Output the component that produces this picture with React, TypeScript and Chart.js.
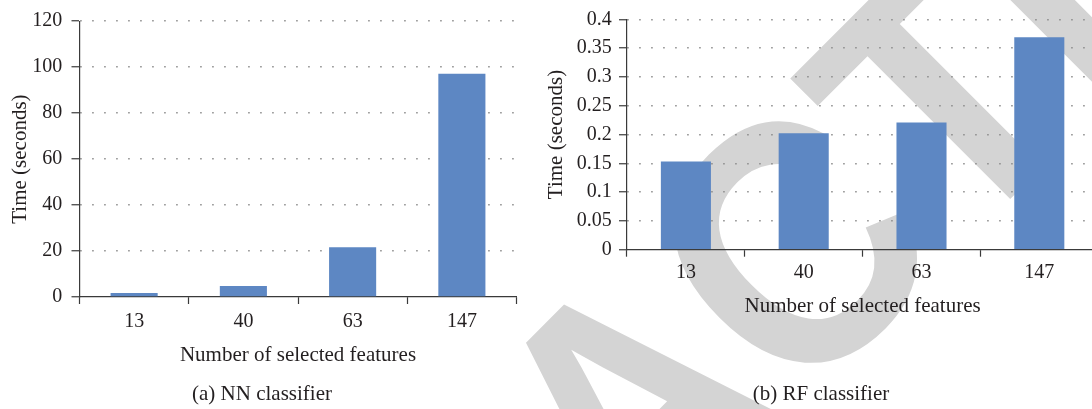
import React, { useEffect, useRef } from "react";
import { Chart, registerables } from "chart.js";

Chart.register(...registerables);

// ---- data ----
const categories = ["13", "40", "63", "147"];
const nnTimes = [1.7, 4.8, 21.6, 97.1];
const rfTimes = [0.153, 0.202, 0.221, 0.369];
const nnTicks = [0, 20, 40, 60, 80, 100, 120];
const rfTicks = [0, 0.05, 0.1, 0.15, 0.2, 0.25, 0.3, 0.35, 0.4];
const xTitle = "Number of selected features";
const yTitle = "Time (seconds)";
const captionA = "(a) NN classifier";
const captionB = "(b) RF classifier";
const watermarkText = "RETRACTED";

// ---- style ----
const SERIF = '"Liberation Serif", "Times New Roman", serif';
const TEXT = "#231f20";
const AXIS = "#3a3a3a";
const GRID = "#8a8a8a";
const BAR = "#5d87c3";

type Layout = {
  yWidth: number;
  xHeight: number;
  padTop: number;
  padRight: number;
  yTickPad: number;
  yTitlePad: number;
  xTickPad: number;
  xTitlePad: number;
  barPct: number;
};

function makeConfig(values: number[], ticks: number[], lay: Layout): any {
  const yMax = ticks[ticks.length - 1];
  return {
    type: "bar",
    data: {
      labels: categories,
      datasets: [
        {
          data: values,
          backgroundColor: BAR,
          borderWidth: 0,
          categoryPercentage: 1,
          barPercentage: lay.barPct,
        },
      ],
    },
    options: {
      responsive: false,
      devicePixelRatio: 1,
      animation: false,
      layout: { padding: { left: 0, right: lay.padRight, top: lay.padTop, bottom: 0 } },
      plugins: { legend: { display: false }, tooltip: { enabled: false }, title: { display: false } },
      scales: {
        x: {
          type: "category",
          offset: true,
          grid: {
            display: true,
            drawOnChartArea: false,
            drawTicks: true,
            tickLength: 7,
            tickColor: AXIS,
            tickWidth: 1.2,
            tickBorderDash: [],
            offset: true,
            color: AXIS,
          },
          border: { display: true, color: AXIS, width: 1.2, dash: [] },
          ticks: {
            color: TEXT,
            font: { family: SERIF, size: 20 },
            padding: lay.xTickPad,
            maxRotation: 0,
            autoSkip: false,
          },
          title: {
            display: true,
            text: xTitle,
            color: TEXT,
            font: { family: SERIF, size: 21 },
            padding: { top: 0, bottom: lay.xTitlePad },
          },
          afterFit: (a: any) => {
            a.height = lay.xHeight;
          },
        },
        y: {
          min: 0,
          max: yMax,
          afterBuildTicks: (a: any) => {
            a.ticks = ticks.map((v) => ({ value: v }));
          },
          grid: {
            color: (c: any) => (c.tick && c.tick.value === 0 ? "rgba(0,0,0,0)" : GRID),
            lineWidth: 1.5,
            drawTicks: true,
            tickLength: 8,
            tickColor: AXIS,
            tickWidth: 1.2,
            tickBorderDash: [],
          },
          border: { display: true, color: AXIS, width: 1.2, dash: [1.5, 10.5] },
          ticks: {
            color: TEXT,
            font: { family: SERIF, size: 20 },
            padding: lay.yTickPad,
            callback: (v: any) => String(+Number(v).toFixed(2)),
          },
          title: {
            display: true,
            text: yTitle,
            color: TEXT,
            font: { family: SERIF, size: 21 },
            padding: { top: lay.yTitlePad, bottom: 0 },
          },
          afterFit: (a: any) => {
            a.width = lay.yWidth;
          },
        },
      },
    },
  };
}

function drawWatermark(canvas: HTMLCanvasElement) {
  const ctx = canvas.getContext("2d");
  if (!ctx) return;
  ctx.clearRect(0, 0, canvas.width, canvas.height);
  const F = 350;
  const sx = 0.905;
  ctx.save();
  ctx.translate(792, 247);
  ctx.rotate(-Math.PI / 4);
  ctx.scale(sx, 1);
  ctx.font = `bold ${F}px "Liberation Sans", Arial, sans-serif`;
  const pre = ctx.measureText(watermarkText.slice(0, 5)).width;
  const m = ctx.measureText("C");
  const asc = m.actualBoundingBoxAscent;
  const desc = m.actualBoundingBoxDescent;
  ctx.fillStyle = "#d4d4d4";
  ctx.textBaseline = "alphabetic";
  ctx.fillText(watermarkText, -(pre + m.width / 2), (asc - desc) / 2);
  ctx.restore();
}

export default function App() {
  const leftRef = useRef<HTMLCanvasElement>(null);
  const rightRef = useRef<HTMLCanvasElement>(null);
  const wmRef = useRef<HTMLCanvasElement>(null);

  useEffect(() => {
    if (wmRef.current) drawWatermark(wmRef.current);
    const left = new Chart(
      leftRef.current as HTMLCanvasElement,
      makeConfig(nnTimes, nnTicks, {
        yWidth: 79.5,
        xHeight: 112,
        padTop: 14,
        padRight: 23.5,
        yTickPad: 9.2,
        yTitlePad: 7.7,
        xTickPad: 6,
        xTitlePad: 41.4,
        barPct: 0.431,
      })
    );
    const right = new Chart(
      rightRef.current as HTMLCanvasElement,
      makeConfig(rfTimes, rfTicks, {
        yWidth: 87,
        xHeight: 159.3,
        padTop: 14.7,
        padRight: 21.8,
        yTickPad: 7.3,
        yTitlePad: 3.4,
        xTickPad: 4.3,
        xTitlePad: 89.7,
        barPct: 0.425,
      })
    );
    return () => {
      left.destroy();
      right.destroy();
    };
  }, []);

  const caption: React.CSSProperties = {
    position: "absolute",
    top: 381,
    height: 24,
    lineHeight: "24px",
    fontFamily: SERIF,
    fontSize: 21,
    color: TEXT,
    whiteSpace: "nowrap",
    transform: "translateX(-50%)",
  };

  return (
    <div
      style={{
        position: "absolute",
        left: 0,
        top: 0,
        width: 1092,
        height: 409,
        overflow: "hidden",
        background: "#ffffff",
      }}
    >
      <canvas
        ref={wmRef}
        width={1092}
        height={409}
        style={{ position: "absolute", left: 0, top: 0, width: 1092, height: 409 }}
      />
      <canvas
        ref={leftRef}
        width={540}
        height={409}
        style={{ position: "absolute", left: 0, top: 0, width: 540, height: 409 }}
      />
      <canvas
        ref={rightRef}
        width={580}
        height={409}
        style={{ position: "absolute", left: 540, top: 0, width: 580, height: 409 }}
      />
      <div style={{ ...caption, left: 262 }}>{captionA}</div>
      <div style={{ ...caption, left: 821 }}>{captionB}</div>
    </div>
  );
}
